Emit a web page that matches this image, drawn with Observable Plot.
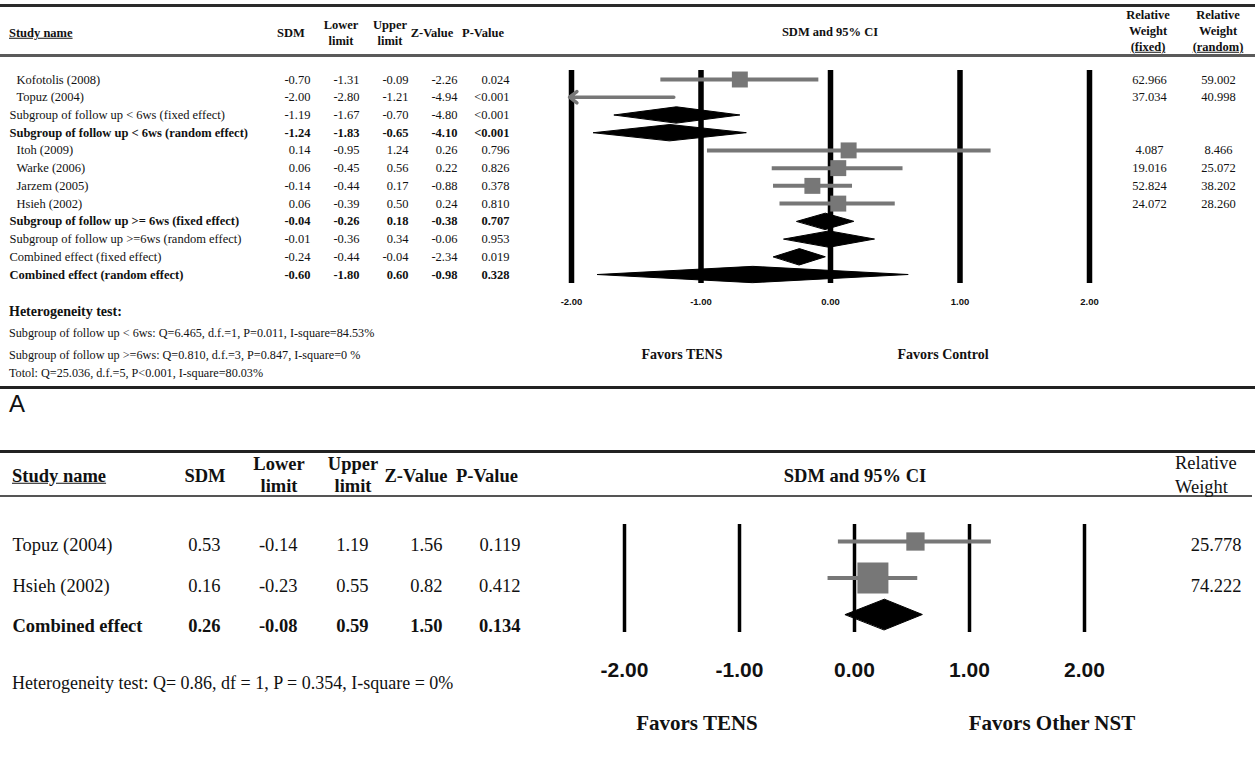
<!DOCTYPE html>
<html>
<head>
<meta charset="utf-8">
<script src="https://cdn.jsdelivr.net/npm/d3@7"></script>
<script src="https://cdn.jsdelivr.net/npm/@observablehq/plot@0.6"></script>
<style>
html, body { margin: 0; padding: 0; background: #fff; }
#page { position: relative; width: 1255px; height: 768px; overflow: hidden;
        font-family: "Liberation Serif", "Times New Roman", serif; color: #111; }
.t { position: absolute; white-space: nowrap; line-height: 1; }
.rule { position: absolute; left: 0; }
.wrap { position: absolute; left: 0; }
.wrap svg { display: block; }
</style>
</head>
<body>
<div id="page"></div>
<script>
// ---------------- Panel A data ----------------
const studiesA = [
  "Kofotolis (2008)", "Topuz (2004)",
  "Subgroup of follow up < 6ws (fixed effect)",
  "Subgroup of follow up < 6ws (random effect)",
  "Itoh (2009)", "Warke (2006)", "Jarzem (2005)", "Hsieh (2002)",
  "Subgroup of follow up >= 6ws (fixed effect)",
  "Subgroup of follow up >=6ws (random effect)",
  "Combined effect (fixed effect)",
  "Combined effect (random effect)"
];
const kindA   = ["study","study","summary","summary","study","study","study","study","summary","summary","summary","summary"];
const boldA   = [false,false,false,true,false,false,false,false,true,false,false,true];
const sdmA    = [-0.70, -2.00, -1.19, -1.24, 0.14, 0.06, -0.14, 0.06, -0.04, -0.01, -0.24, -0.60];
const lowerA  = [-1.31, -2.80, -1.67, -1.83, -0.95, -0.45, -0.44, -0.39, -0.26, -0.36, -0.44, -1.80];
const upperA  = [-0.09, -1.21, -0.70, -0.65, 1.24, 0.56, 0.17, 0.50, 0.18, 0.34, -0.04, 0.60];
const zA      = [-2.26, -4.94, -4.80, -4.10, 0.26, 0.22, -0.88, 0.24, -0.38, -0.06, -2.34, -0.98];
const pA      = ["0.024","<0.001","<0.001","<0.001","0.796","0.826","0.378","0.810","0.707","0.953","0.019","0.328"];
const wFixedA = [62.966, 37.034, null, null, 4.087, 19.016, 52.824, 24.072, null, null, null, null];
const wRandA  = [59.002, 40.998, null, null, 8.466, 25.072, 38.202, 28.260, null, null, null, null];
const ticksA  = [-2, -1, 0, 1, 2];
const hetA = [
  "Subgroup of follow up < 6ws: Q=6.465, d.f.=1, P=0.011, I-square=84.53%",
  "Subgroup of follow up >=6ws: Q=0.810, d.f.=3, P=0.847, I-square=0 %",
  "Totol: Q=25.036, d.f.=5, P<0.001, I-square=80.03%"
];

// ---------------- Panel B data ----------------
const studiesB = ["Topuz (2004)", "Hsieh (2002)", "Combined effect"];
const kindB    = ["study", "study", "summary"];
const boldB    = [false, false, true];
const sdmB     = [0.53, 0.16, 0.26];
const lowerB   = [-0.14, -0.23, -0.08];
const upperB   = [1.19, 0.55, 0.59];
const zB       = [1.56, 0.82, 1.50];
const pB       = ["0.119", "0.412", "0.134"];
const weightB  = [25.778, 74.222, null];
const ticksB   = [-2, -1, 0, 1, 2];
const hetB = "Heterogeneity test: Q= 0.86, df = 1, P = 0.354, I-square = 0%";

// ---------------- helpers ----------------
const page = document.getElementById("page");
const f2 = v => v.toFixed(2);
const f3 = v => v.toFixed(3);

function label(text, x, y, o = {}) {
  const el = document.createElement("div");
  el.className = "t";
  el.textContent = text;
  const tx = o.anchor === "middle" ? "-50%" : o.anchor === "end" ? "-100%" : "0";
  el.style.left = x + "px";
  el.style.top = y + "px";
  el.style.transform = `translate(${tx}, -50%)`;
  el.style.fontSize = (o.size || 12) + "px";
  if (o.bold) el.style.fontWeight = "bold";
  if (o.underline) el.style.textDecoration = "underline";
  if (o.family) el.style.fontFamily = o.family;
  page.appendChild(el);
}
function hrule(y, h, color, w = 1255) {
  const el = document.createElement("div");
  el.className = "rule";
  el.style.top = y + "px";
  el.style.height = h + "px";
  el.style.width = w + "px";
  el.style.background = color;
  page.appendChild(el);
}
function place(node, top) {
  const w = document.createElement("div");
  w.className = "wrap";
  w.style.top = top + "px";
  w.appendChild(node);
  page.appendChild(w);
}
function rowsOf(names, kind, bold, sdm, lower, upper, z, p) {
  return names.map((name, i) => ({i, name, kind: kind[i], bold: bold[i], sdm: sdm[i],
    lower: lower[i], upper: upper[i], z: z[i], p: p[i]}));
}
function diamonds(rows, h) {
  return rows.filter(d => d.kind === "summary").flatMap(d => [
    {k: d.i, x: d.lower, y: d.i}, {k: d.i, x: d.sdm, y: d.i - h},
    {k: d.i, x: d.upper, y: d.i}, {k: d.i, x: d.sdm, y: d.i + h}
  ]);
}
function tableMarks(rows, cols) {
  const marks = [];
  for (const bold of [false, true]) {
    const sub = rows.filter(d => d.bold === bold);
    for (const c of cols) {
      const data = c.filter ? sub.filter(c.filter) : sub;
      marks.push(Plot.text(data, {y: "i", text: c.text, frameAnchor: "left", dx: c.x,
        textAnchor: c.anchor, fontWeight: bold ? "bold" : "normal", fill: "#111"}));
    }
  }
  return marks;
}

// =============== PANEL A ===============
const rowsA = rowsOf(studiesA, kindA, boldA, sdmA, lowerA, upperA, zA, pA)
  .map(d => ({...d, wf: wFixedA[d.i], wr: wRandA[d.i]}));
const studyA = rowsA.filter(d => d.kind === "study");
const inA = studyA.filter(d => d.lower >= ticksA[0]);
const outA = studyA.filter(d => d.lower < ticksA[0]);

hrule(4, 3, "#2a2a2a");
hrule(54, 3, "#5a5a5a");
label("Study name", 9, 33, {size: 12.5, bold: true, underline: true});
label("SDM", 291, 33, {size: 12.5, bold: true, anchor: "middle"});
label("Lower", 341, 25, {size: 12.5, bold: true, anchor: "middle"});
label("limit", 341, 41, {size: 12.5, bold: true, anchor: "middle"});
label("Upper", 390, 25, {size: 12.5, bold: true, anchor: "middle"});
label("limit", 390, 41, {size: 12.5, bold: true, anchor: "middle"});
label("Z-Value", 432, 33, {size: 12.5, bold: true, anchor: "middle"});
label("P-Value", 483, 33, {size: 12.5, bold: true, anchor: "middle"});
label("SDM and 95% CI", 830, 32, {size: 12.5, bold: true, anchor: "middle"});
label("Relative", 1148, 15, {size: 12.5, bold: true, anchor: "middle"});
label("Weight", 1148, 31, {size: 12.5, bold: true, anchor: "middle"});
label("(fixed)", 1148, 47, {size: 12.5, bold: true, anchor: "middle", underline: true});
label("Relative", 1218, 15, {size: 12.5, bold: true, anchor: "middle"});
label("Weight", 1218, 31, {size: 12.5, bold: true, anchor: "middle"});
label("(random)", 1218, 47, {size: 12.5, bold: true, anchor: "middle", underline: true});

const forestA = Plot.plot({
  width: 1255, height: 390,
  marginLeft: 571, marginRight: 166, marginTop: 79, marginBottom: 116,
  x: {domain: [ticksA[0], ticksA[ticksA.length - 1]], clamp: true},
  y: {domain: [0, studiesA.length - 1], reverse: true, axis: null},
  style: {background: "transparent", overflow: "visible", fontFamily: "Liberation Sans, Arial, sans-serif",
          fontSize: "9.5px", fontWeight: "bold", color: "#111"},
  marks: [
    Plot.ruleX(ticksA, {stroke: "#000", strokeWidth: 5.5, insetTop: -9, insetBottom: -9}),
    Plot.ruleY(inA, {y: "i", x1: "lower", x2: "upper", stroke: "#777", strokeWidth: 4}),
    Plot.arrow(outA, {x1: "upper", x2: "lower", y1: "i", y2: "i", stroke: "#777", strokeWidth: 3.5,
                      headLength: 4, headAngle: 75, insetEnd: -2}),
    Plot.dot(inA, {x: "sdm", y: "i", symbol: "square", r: 9, fill: "#777", stroke: "none"}),
    Plot.line(diamonds(rowsA, 0.46), {x: "x", y: "y", z: "k", fill: "#000", stroke: "#000", strokeWidth: 1, curve: "linear-closed"}),
    Plot.axisX(ticksA, {tickSize: 0, tickPadding: 24, tickFormat: f2, label: null})
  ]
});
place(forestA, 0);

const tableA = Plot.plot({
  width: 1255, height: 390,
  marginLeft: 0, marginRight: 0, marginTop: 79, marginBottom: 116,
  y: {domain: [0, studiesA.length - 1], reverse: true, axis: null},
  style: {background: "transparent", overflow: "visible",
          fontFamily: "Liberation Serif, Times New Roman, serif", fontSize: "12.5px"},
  marks: tableMarks(rowsA, [
    {text: "name", x: 16, anchor: "start", filter: d => d.kind === "study"},
    {text: "name", x: 9, anchor: "start", filter: d => d.kind !== "study"},
    {text: d => f2(d.sdm), x: 310, anchor: "end"},
    {text: d => f2(d.lower), x: 359, anchor: "end"},
    {text: d => f2(d.upper), x: 408, anchor: "end"},
    {text: d => f2(d.z), x: 457, anchor: "end"},
    {text: "p", x: 509, anchor: "end"},
    {text: d => f3(d.wf), x: 1149, anchor: "middle", filter: d => d.wf != null},
    {text: d => f3(d.wr), x: 1218, anchor: "middle", filter: d => d.wr != null}
  ])
});
place(tableA, 0);

label("Favors TENS", 682, 355, {size: 14, bold: true, anchor: "middle"});
label("Favors Control", 943, 355, {size: 14, bold: true, anchor: "middle"});
label("Heterogeneity test:", 9, 312, {size: 14, bold: true});
label(hetA[0], 9, 333, {size: 12.2});
label(hetA[1], 9, 355, {size: 12.2});
label(hetA[2], 9, 373, {size: 12.2});
hrule(386, 3, "#222");
label("A", 9, 404, {size: 24, family: "Liberation Sans, Arial, sans-serif"});

// =============== PANEL B ===============
const rowsB = rowsOf(studiesB, kindB, boldB, sdmB, lowerB, upperB, zB, pB)
  .map(d => ({...d, w: weightB[d.i]}));
const studyB = rowsB.filter(d => d.kind === "study");

hrule(450, 3, "#222");
hrule(495, 2, "#555", 1252);
label("Study name", 12, 476, {size: 18.5, bold: true, underline: true});
label("SDM", 205, 476, {size: 18.5, bold: true, anchor: "middle"});
label("Lower", 279, 464, {size: 18.5, bold: true, anchor: "middle"});
label("limit", 279, 486, {size: 18.5, bold: true, anchor: "middle"});
label("Upper", 353, 464, {size: 18.5, bold: true, anchor: "middle"});
label("limit", 353, 486, {size: 18.5, bold: true, anchor: "middle"});
label("Z-Value", 416, 476, {size: 18.5, bold: true, anchor: "middle"});
label("P-Value", 487, 476, {size: 18.5, bold: true, anchor: "middle"});
label("SDM and 95% CI", 855, 476, {size: 18.5, bold: true, anchor: "middle"});
label("Relative", 1175, 463, {size: 18.5});
label("Weight", 1175, 487, {size: 18.5});

const forestB = Plot.plot({
  width: 1255, height: 300,
  marginLeft: 624, marginRight: 171, marginTop: 101, marginBottom: 126,
  x: {domain: [ticksB[0], ticksB[ticksB.length - 1]], clamp: true},
  y: {domain: [0, studiesB.length - 1], reverse: true, axis: null},
  r: {type: "sqrt", domain: [0, d3.max(weightB)], range: [0, 17.5]},
  style: {background: "transparent", overflow: "visible", fontFamily: "Liberation Sans, Arial, sans-serif",
          fontSize: "21px", fontWeight: "bold", color: "#111"},
  marks: [
    Plot.ruleX(ticksB, {stroke: "#000", strokeWidth: 3.5, insetTop: -17, insetBottom: -18}),
    Plot.ruleY(studyB, {y: "i", x1: "lower", x2: "upper", stroke: "#777", strokeWidth: 4}),
    Plot.dot(studyB, {x: "sdm", y: "i", symbol: "square", r: "w", fill: "#777", stroke: "none"}),
    Plot.line(diamonds(rowsB, 0.42), {x: "x", y: "y", z: "k", fill: "#000", stroke: "#000", strokeWidth: 1, curve: "linear-closed"}),
    Plot.axisX(ticksB, {tickSize: 0, tickPadding: 48, tickFormat: f2, label: null})
  ]
});
place(forestB, 440);

const tableB = Plot.plot({
  width: 1255, height: 300,
  marginLeft: 0, marginRight: 0, marginTop: 105, marginBottom: 114,
  y: {domain: [0, studiesB.length - 1], reverse: true, axis: null},
  style: {background: "transparent", overflow: "visible",
          fontFamily: "Liberation Serif, Times New Roman, serif", fontSize: "18.5px"},
  marks: tableMarks(rowsB, [
    {text: "name", x: 12, anchor: "start"},
    {text: d => f2(d.sdm), x: 220, anchor: "end"},
    {text: d => f2(d.lower), x: 297, anchor: "end"},
    {text: d => f2(d.upper), x: 368, anchor: "end"},
    {text: d => f2(d.z), x: 442, anchor: "end"},
    {text: "p", x: 520, anchor: "end"},
    {text: d => f3(d.w), x: 1241, anchor: "end", filter: d => d.w != null}
  ])
});
place(tableB, 440);

label(hetB, 12, 683, {size: 18});
label("Favors TENS", 697, 723, {size: 21, bold: true, anchor: "middle"});
label("Favors Other NST", 1052, 723, {size: 21, bold: true, anchor: "middle"});
</script>
</body>
</html>
